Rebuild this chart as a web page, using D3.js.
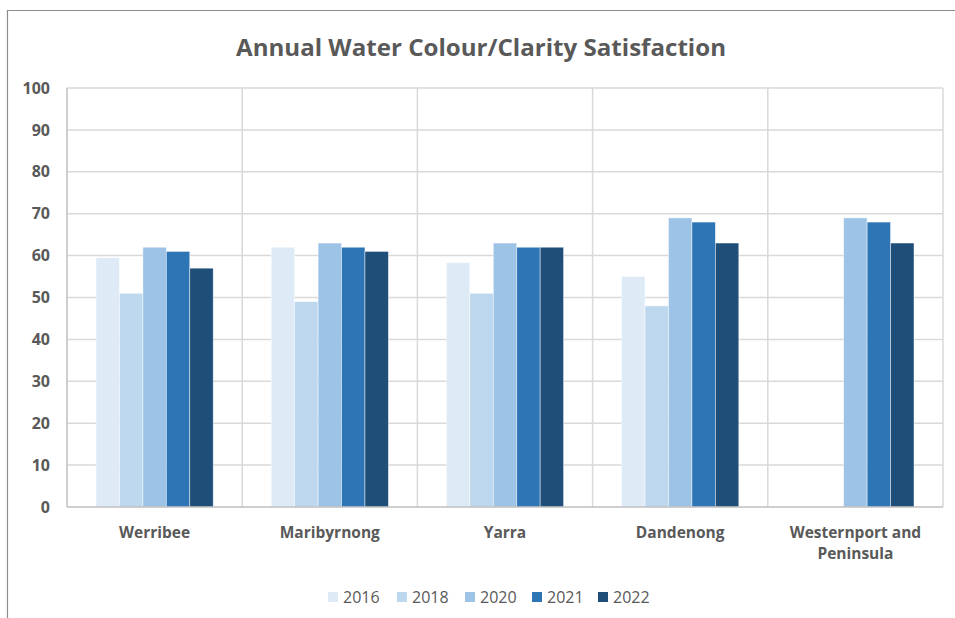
<!DOCTYPE html>
<html>
<head>
<meta charset="utf-8">
<script src="https://cdn.jsdelivr.net/npm/d3@7"></script>
<style>
  html, body { margin: 0; padding: 0; background: #fff; }
  svg { display: block; }
  text { font-family: "Open Sans", "Noto Sans", sans-serif; fill: #595959; }
</style>
</head>
<body>
<svg id="chart" width="955" height="618"></svg>
<script>
// Survey regions and years
const regions = ["Werribee", "Maribyrnong", "Yarra", "Dandenong", "Westernport and Peninsula"];
const years = ["2016", "2018", "2020", "2021", "2022"];

// Satisfaction (%) per year, one value per region (null = not surveyed)
const v2016 = [59.5, 62, 58.3, 55, null];
const v2018 = [51, 49, 51, 48, null];
const v2020 = [62, 63, 63, 69, 69];
const v2021 = [61, 62, 62, 68, 68];
const v2022 = [57, 61, 62, 63, 63];

const yTicks = [0, 10, 20, 30, 40, 50, 60, 70, 80, 90, 100];
const colors = ["#DEEBF7", "#BDD7EE", "#9DC3E6", "#2E75B6", "#1F4E79"];

const seriesValues = [v2016, v2018, v2020, v2021, v2022];
const data = regions.map((r, i) => ({
  region: r,
  values: years.map((y, j) => ({ year: y, value: seriesValues[j][i] }))
}));

const svg = d3.select("#chart");
const plot = { left: 67, right: 943, top: 88, bottom: 507 };

// Chart frame (top and left edges)
svg.append("line").attr("x1", 7).attr("x2", 955).attr("y1", 10.5).attr("y2", 10.5)
  .attr("stroke", "#8c8c8c").attr("stroke-width", 1.2);
svg.append("line").attr("x1", 7.5).attr("x2", 7.5).attr("y1", 10).attr("y2", 618)
  .attr("stroke", "#8c8c8c").attr("stroke-width", 1.2);

// Title
svg.append("text")
  .attr("x", 481).attr("y", 56)
  .attr("text-anchor", "middle")
  .attr("font-size", 23)
  .attr("font-weight", 700)
  .attr("textLength", 490)
  .attr("lengthAdjust", "spacingAndGlyphs")
  .text("Annual Water Colour/Clarity Satisfaction");

const x0 = d3.scaleBand().domain(regions).range([plot.left, plot.right]).padding(0);
const groupPad = 29;
const x1 = d3.scaleBand().domain(years)
  .range([groupPad, x0.bandwidth() - groupPad]).padding(0);
const y = d3.scaleLinear().domain([0, 100]).range([plot.bottom, plot.top]);
const color = d3.scaleOrdinal().domain(years).range(colors);

// Horizontal gridlines
svg.append("g").selectAll("line")
  .data(yTicks.filter(t => t > 0))
  .join("line")
  .attr("x1", plot.left).attr("x2", plot.right)
  .attr("y1", d => y(d)).attr("y2", d => y(d))
  .attr("stroke", "#d9d9d9").attr("stroke-width", 1.5);

// Vertical category separators
const seps = regions.map(r => x0(r) + x0.bandwidth());
svg.append("g").selectAll("line")
  .data(seps)
  .join("line")
  .attr("x1", d => d).attr("x2", d => d)
  .attr("y1", plot.top).attr("y2", plot.bottom)
  .attr("stroke", "#d9d9d9").attr("stroke-width", 1.5);

// Bars
svg.append("g").selectAll("g")
  .data(data)
  .join("g")
  .attr("transform", d => `translate(${x0(d.region)},0)`)
  .selectAll("rect")
  .data(d => d.values.filter(v => v.value != null))
  .join("rect")
  .attr("x", d => x1(d.year))
  .attr("width", x1.bandwidth())
  .attr("y", d => y(d.value))
  .attr("height", d => y(0) - y(d.value))
  .attr("fill", d => color(d.year))
  .attr("stroke", "#ffffff").attr("stroke-opacity", 0.6).attr("stroke-width", 0.75);

// Axis lines
svg.append("line").attr("x1", plot.left).attr("x2", plot.left)
  .attr("y1", plot.top).attr("y2", plot.bottom)
  .attr("stroke", "#bfbfbf").attr("stroke-width", 1.5);
svg.append("line").attr("x1", plot.left).attr("x2", plot.right)
  .attr("y1", plot.bottom).attr("y2", plot.bottom)
  .attr("stroke", "#bfbfbf").attr("stroke-width", 1.5);

// Y axis labels
const yAxis = d3.axisLeft(y).tickValues(yTicks).tickSize(0).tickPadding(0);
const yg = svg.append("g").attr("transform", "translate(50,0)").call(yAxis);
yg.select(".domain").remove();
yg.selectAll("text")
  .attr("font-size", 16).attr("font-weight", 700)
  .attr("fill", "#595959")
  .style("font-family", "'Open Sans', sans-serif");

// X axis labels (wrapped)
const xLabels = { "Westernport and Peninsula": ["Westernport and", "Peninsula"] };
svg.append("g").selectAll("text")
  .data(regions)
  .join("text")
  .attr("x", d => x0(d) + x0.bandwidth() / 2)
  .attr("y", 538)
  .attr("text-anchor", "middle")
  .attr("font-size", 15.5).attr("font-weight", 700)
  .each(function (d) {
    const lines = xLabels[d] || [d];
    d3.select(this).selectAll("tspan")
      .data(lines)
      .join("tspan")
      .attr("x", x0(d) + x0.bandwidth() / 2)
      .attr("dy", (l, i) => i === 0 ? 0 : 21)
      .text(l => l);
  });

// Legend
const legendX = [328, 397, 465, 532, 598];
const lg = svg.append("g").selectAll("g")
  .data(years)
  .join("g")
  .attr("transform", (d, i) => `translate(${legendX[i]},592)`);
lg.append("rect").attr("width", 10).attr("height", 10).attr("fill", d => color(d));
lg.append("text").attr("x", 15).attr("y", 11)
  .attr("font-size", 16)
  .text(d => d);
</script>
</body>
</html>
